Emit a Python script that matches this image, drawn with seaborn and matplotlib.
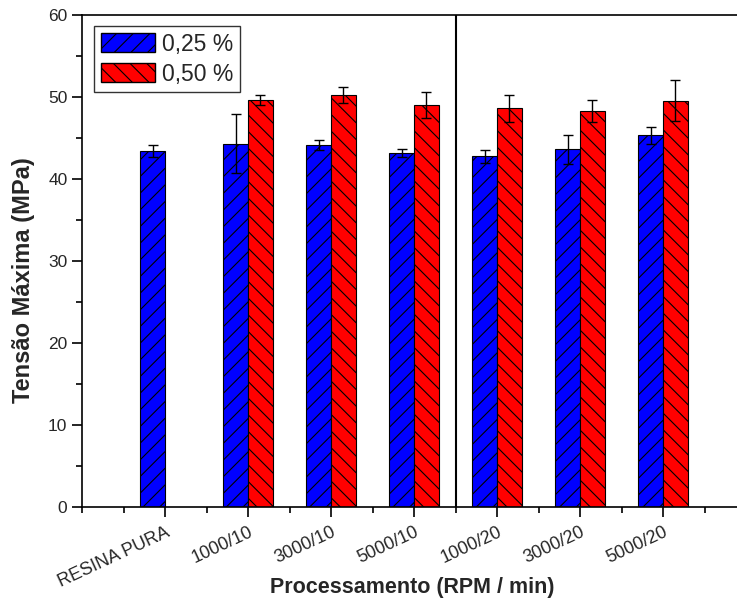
import numpy as np
import pandas as pd
import seaborn as sns
import matplotlib.pyplot as plt
from matplotlib.patches import Patch
from matplotlib.ticker import MultipleLocator

# dados
categorias = ["RESINA PURA", "1000/10", "3000/10", "5000/10", "1000/20", "3000/20", "5000/20"]
tensao_025 = [43.45, 44.3, 44.1, 43.15, 42.75, 43.6, 45.35]
erro_025 = [0.75, 3.6, 0.6, 0.45, 0.8, 1.8, 1.05]
tensao_050 = [np.nan, 49.6, 50.25, 49.0, 48.6, 48.25, 49.55]
erro_050 = [np.nan, 0.6, 0.95, 1.6, 1.7, 1.35, 2.5]
niveis = ["0,25 %", "0,50 %"]
cores = ["#0000FF", "#FF0000"]
hachuras = ["//", "\\\\"]

df = pd.concat([
    pd.DataFrame({"proc": categorias, "tensao": tensao_025, "erro": erro_025, "conc": niveis[0]}),
    pd.DataFrame({"proc": categorias, "tensao": tensao_050, "erro": erro_050, "conc": niveis[1]}),
]).dropna()

sns.set_style("ticks")
plt.rcParams['font.family'] = ['Liberation Sans', 'DejaVu Sans']
plt.rcParams['hatch.linewidth'] = 0.8
plt.rcParams['hatch.color'] = 'black'

fig = plt.figure(figsize=(7.37, 6.0), dpi=100)
ax = fig.add_axes([82 / 737, 93 / 600, 664 / 737, 492 / 600])

sns.barplot(data=df, x="proc", y="tensao", hue="conc", order=categorias,
            hue_order=niveis, palette=cores, saturation=1, width=0.6, errorbar=None,
            edgecolor="black", linewidth=0.8, legend=False, ax=ax)

# hachuras + barras de erro
for cont, nivel, h in zip(ax.containers, niveis, hachuras):
    sub = df[df.conc == nivel].set_index("proc")
    for bar in cont:
        bar.set_hatch(h)
        xc = bar.get_x() + bar.get_width() / 2
        cat = categorias[int(round(xc))]
        ax.errorbar(xc, sub.loc[cat, "tensao"], yerr=sub.loc[cat, "erro"],
                    color="black", lw=1, capsize=3.6, capthick=1, zorder=5)

ax.axvline(3.5, color="black", lw=1.5)

ax.set_xlim(-1, 7)
ax.set_ylim(0, 60)
ax.yaxis.set_major_locator(MultipleLocator(10))
ax.yaxis.set_minor_locator(MultipleLocator(5))
ax.xaxis.set_minor_locator(MultipleLocator(0.5))
ax.set_xticks(range(len(categorias)))
ax.set_xticklabels(categorias, rotation=25, ha="right", rotation_mode="anchor")
ax.tick_params(axis="both", which="major", direction="out", length=7, width=1.2,
               labelsize=12.5, color="black")
ax.tick_params(axis="x", which="major", labelsize=13, pad=5)
ax.tick_params(axis="both", which="minor", direction="out", length=4, width=1.2, color="black")
for s in ax.spines.values():
    s.set_visible(True)
    s.set_linewidth(1.2)
    s.set_color("black")

ax.set_xlabel("Processamento (RPM / min)", fontsize=15.5, fontweight="bold")
ax.set_ylabel("Tensão Máxima (MPa)", fontsize=17, fontweight="bold")
ax.xaxis.set_label_coords(0.497, -0.142)
ax.yaxis.set_label_coords(-0.071, 0.461)

handles = [Patch(facecolor=c, edgecolor="black", hatch=h, label=n)
           for c, h, n in zip(cores, hachuras, niveis)]
leg = ax.legend(handles=handles, loc="upper left", bbox_to_anchor=(0.018, 0.978),
                fontsize=16.5, frameon=True, fancybox=False, handlelength=2.35,
                handleheight=0.9, borderpad=0.3, labelspacing=0.3, handletextpad=0.3,
                borderaxespad=0)
leg.get_frame().set_edgecolor("black")
leg.get_frame().set_linewidth(1)

fig.savefig("out.png", dpi=100)
